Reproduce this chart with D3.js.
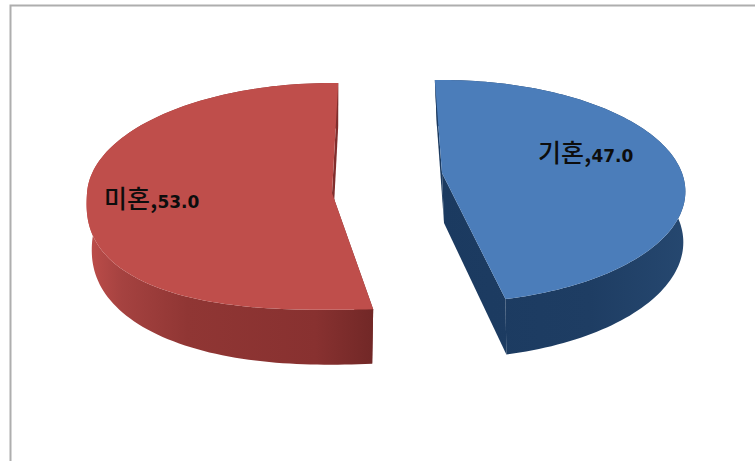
<!DOCTYPE html>
<html>
<head>
<meta charset="utf-8">
<script src="https://cdn.jsdelivr.net/npm/d3@7/dist/d3.min.js"></script>
<style>
html,body{margin:0;padding:0;background:#fff}
svg{display:block}
</style>
</head>
<body>
<svg id="chart" width="755" height="461"></svg>
<script>
// Marital status share, drawn as an exploded 3D pie.
const categories = ["기혼", "미혼"];
const values = [47.0, 53.0];

const topColors = ["#4b7dba", "#bf4e4b"];
const labelValueFormat = d3.format(".1f");

// Perspective set-up for each exploded slice: hub position, radius, vertical
// squash (rs), foreshortening (k) and rim fullness for the far and near halves
// (nFar, nNear; 2 = plain ellipse).
const sliceViews = [
  { spin: 0,
    top: {cx: 442, cy: 173, r: 240, rs: 108.4, k: 0.166, nFar: 2, nNear: 2},
    bottom: {cx: 444, cy: 223, r: 236, rs: 113, k: 0.166, nFar: 2, nNear: 2},
    labelDx: 96, labelDy: -11 },
  { spin: 3.5,
    top: {cx: 332, cy: 193, r: 245, rs: 113.3, k: 0.03, nFar: 2, nNear: 2.5},
    bottom: {cx: 332, cy: 243, r: 240, rs: 118, k: 0.03, nFar: 2, nNear: 2.25},
    labelDx: -228, labelDy: 15 }
];

const svg = d3.select("#chart");
const defs = svg.append("defs");

const blueSide = defs.append("linearGradient").attr("id", "side0")
  .attr("gradientUnits", "userSpaceOnUse")
  .attr("x1", 440).attr("x2", 690).attr("y1", 0).attr("y2", 0);
blueSide.append("stop").attr("offset", 0).attr("stop-color", "#1b3a60");
blueSide.append("stop").attr("offset", 0.6).attr("stop-color", "#1e3d63");
blueSide.append("stop").attr("offset", 1).attr("stop-color", "#264870");

const redSide = defs.append("linearGradient").attr("id", "side1")
  .attr("gradientUnits", "userSpaceOnUse")
  .attr("x1", 88).attr("x2", 372).attr("y1", 0).attr("y2", 0);
redSide.append("stop").attr("offset", 0).attr("stop-color", "#bd4d4a");
redSide.append("stop").attr("offset", 0.12).attr("stop-color", "#a54240");
redSide.append("stop").attr("offset", 0.35).attr("stop-color", "#903634");
redSide.append("stop").attr("offset", 0.8).attr("stop-color", "#883130");
redSide.append("stop").attr("offset", 1).attr("stop-color", "#722827");

// Outer frame: only the top and left edges stay inside the canvas.
svg.append("path")
  .attr("d", d3.line()([[755, 5.5], [10.5, 5.5], [10.5, 461]]))
  .attr("fill", "none").attr("stroke", "#aeaeae").attr("stroke-width", 2);

const pie = d3.pie().sort(null).value(d => d)
  .startAngle(-2 * Math.PI / 180)
  .endAngle(358 * Math.PI / 180);

// Project a pie angle (0 = up, clockwise) onto the rim of one slice face.
function project(view, angle) {
  const s = Math.sin(angle), c = Math.cos(angle);
  const n = c > 0 ? view.nFar : view.nNear;
  const rho = Math.pow(Math.pow(Math.abs(s), n) + Math.pow(Math.abs(c), n), -1 / n);
  const u = s * rho, v = -c * rho;
  const d = 1 - view.k * v;
  return [view.cx + view.r * u / d, view.cy + view.rs * v / d];
}

const line = d3.line();

pie(values).forEach((arc, i) => {
  const view = sliceViews[i];
  const shift = view.spin * Math.PI / 180;
  const a0 = arc.startAngle + shift, a1 = arc.endAngle + shift;
  const steps = d3.range(0, 121).map(t => a0 + (a1 - a0) * t / 120);

  const topRim = steps.map(a => project(view.top, a));
  const bottomRim = steps.map(a => project(view.bottom, a));
  const topHub = [view.top.cx, view.top.cy];
  const bottomHub = [view.bottom.cx, view.bottom.cy];

  const g = svg.append("g").attr("class", "slice");
  const sideFill = `url(#side${i})`;

  // Outer wall, then the two cut faces, then the upper face over them.
  g.append("path")
    .attr("d", line(topRim.concat(bottomRim.slice().reverse())) + "Z")
    .attr("fill", sideFill);
  g.append("path")
    .attr("d", line([topRim[0], topHub, bottomHub, bottomRim[0]]) + "Z")
    .attr("fill", sideFill);
  g.append("path")
    .attr("d", line([topRim[120], topHub, bottomHub, bottomRim[120]]) + "Z")
    .attr("fill", sideFill);
  g.append("path")
    .attr("d", line([topHub].concat(topRim)) + "Z")
    .attr("fill", topColors[i]);

  // Data label: category name, comma and value on one line.
  const label = g.append("text")
    .attr("x", view.top.cx + view.labelDx)
    .attr("y", view.top.cy + view.labelDy)
    .attr("fill", "#0d0d0d");
  label.append("tspan")
    .attr("font-family", "'Noto Sans CJK KR'")
    .attr("font-size", 25)
    .attr("font-weight", 500)
    .text(categories[i] + ",");
  label.append("tspan")
    .attr("font-family", "'DejaVu Sans'")
    .attr("font-size", 17)
    .attr("font-weight", 700)
    .text(labelValueFormat(values[i]));
});
</script>
</body>
</html>
